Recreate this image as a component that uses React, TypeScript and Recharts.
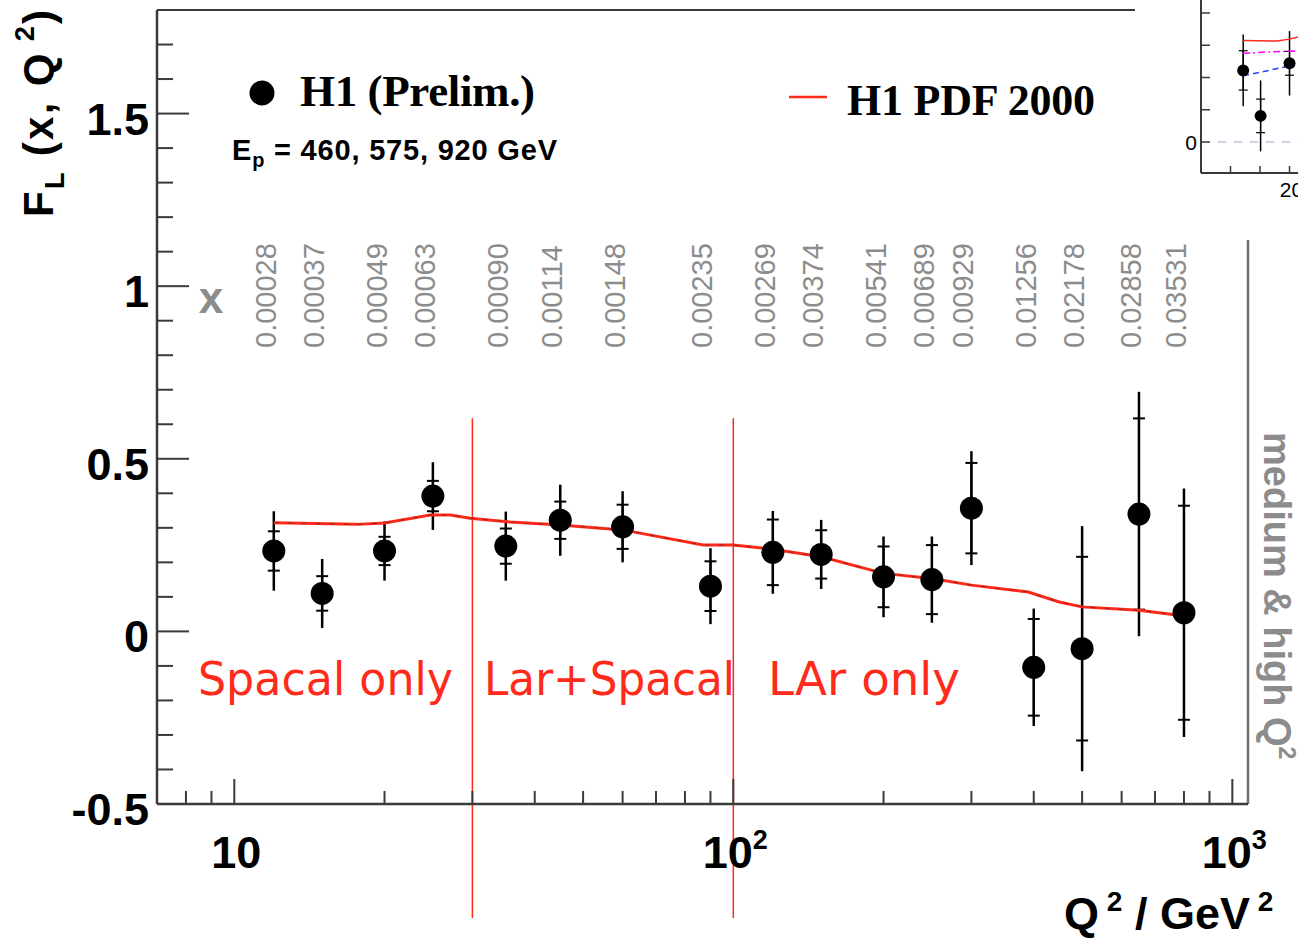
import React from 'react';
import { ScatterChart, Scatter, XAxis, YAxis, ErrorBar, ReferenceLine } from 'recharts';

// H1 preliminary F_L measurement
const q2Values = [12, 15, 20, 25, 35, 45, 60, 90, 120, 150, 200, 250, 300, 400, 500, 650, 800];
const xBjorken = ['0.00028', '0.00037', '0.00049', '0.00063', '0.00090', '0.00114', '0.00148', '0.00235', '0.00269',
  '0.00374', '0.00541', '0.00689', '0.00929', '0.01256', '0.02178', '0.02858', '0.03531'];
const flValues = [0.233, 0.110, 0.233, 0.392, 0.247, 0.322, 0.303, 0.131, 0.229, 0.223, 0.158, 0.150, 0.357, -0.104, -0.050, 0.340, 0.054];
const statErrors = [0.057, 0.050, 0.041, 0.044, 0.051, 0.054, 0.064, 0.072, 0.095, 0.070, 0.088, 0.100, 0.131, 0.140, 0.266, 0.277, 0.310];
const totalErrors = [0.115, 0.100, 0.086, 0.098, 0.100, 0.103, 0.103, 0.110, 0.120, 0.100, 0.117, 0.125, 0.165, 0.170, 0.355, 0.354, 0.360];

// H1 PDF 2000 prediction
const pdfQ2 = [12, 17.6, 20, 24.7, 27.1, 29.7, 35.7, 45, 60, 87, 100, 120, 150, 200, 250, 300, 390, 450, 500, 650, 760, 800];
const pdfFL = [0.315, 0.310, 0.314, 0.337, 0.337, 0.328, 0.317, 0.308, 0.294, 0.250, 0.250, 0.238, 0.216, 0.168, 0.153, 0.134, 0.114, 0.085, 0.071, 0.061, 0.049, 0.047];

// region boundaries
const boundaries = [30, 100];

// cropped neighbouring plot (top right)
const insetX = [12.15, 15.1, 20];
const insetFL = [0.222, 0.081, 0.244];
const insetStat = [0.061, 0.052, 0.037];
const insetTot = [0.111, 0.110, 0.100];
const insetRedX = [12.15, 17.9, 20, 21.6];
const insetRedY = [0.315, 0.313, 0.319, 0.326];
const insetMagX = [12.15, 16, 21.6];
const insetMagY = [0.275, 0.279, 0.282];
const insetBlueX = [12.15, 20];
const insetBlueY = [0.205, 0.236];

const xTicks = [7, 8, 9, 10, 20, 30, 40, 50, 60, 70, 80, 90, 100, 200, 300, 400, 500, 600, 700, 800, 900, 1000];
const yTicks = [-0.5, -0.4, -0.3, -0.2, -0.1, 0, 0.1, 0.2, 0.3, 0.4, 0.5, 0.6, 0.7, 0.8, 0.9, 1, 1.1, 1.2, 1.3, 1.4, 1.5, 1.6, 1.7];
const insetXTicks = [10, 15, 20, 25, 30];
const insetYTicks = [0, 0.1, 0.2, 0.3, 0.4, 0.5];

const SANS = '"Liberation Sans", Arial, Helvetica, sans-serif';
const SERIF = '"Liberation Serif", "Times New Roman", serif';
const AXIS = '#3a3a3a';
const RED = '#ff2a1a';
const GREY = '#8c8c8c';

const points = q2Values.map((q, i) => ({ q2: q, v: flValues[i], stat: statErrors[i], tot: totalErrors[i] }));
const pdfLine = pdfQ2.map((q, i) => ({ q2: q, v: pdfFL[i] }));
const xLabels = q2Values.map((q, i) => ({ q2: q, v: 0.821, label: xBjorken[i] }));

const insetPoints = insetX.map((q, i) => ({ q2: q, v: insetFL[i], stat: insetStat[i], tot: insetTot[i] }));
const insetRed = insetRedX.map((q, i) => ({ q2: q, v: insetRedY[i] }));
const insetMag = insetMagX.map((q, i) => ({ q2: q, v: insetMagY[i] }));
const insetBlue = insetBlueX.map((q, i) => ({ q2: q, v: insetBlueY[i] }));

const Empty = () => <g />;

const XTick = (props: any) => {
  const { x, y, payload } = props;
  const v = payload.value;
  const major = v === 10 || v === 100 || v === 1000;
  return (
    <g>
      <line x1={x} x2={x} y1={y} y2={y - (major ? 25 : 13)} stroke={AXIS} strokeWidth={2} />
      {v === 10 && (
        <text x={x + 2} y={y + 64} textAnchor="middle" fontFamily={SANS} fontWeight="bold" fontSize={45} fill="#000">10</text>
      )}
      {(v === 100 || v === 1000) && (
        <text x={x + 2} y={y + 64} textAnchor="middle" fontFamily={SANS} fontWeight="bold" fontSize={45} fill="#000">
          10<tspan dy={-19} fontSize={27}>{v === 100 ? '2' : '3'}</tspan>
        </text>
      )}
    </g>
  );
};

const YTick = (props: any) => {
  const { x, y, payload } = props;
  const v = payload.value;
  const major = Math.abs(v * 2 - Math.round(v * 2)) < 1e-6;
  return (
    <g>
      <line x1={x} x2={x + (major ? 32 : 16)} y1={y} y2={y} stroke={AXIS} strokeWidth={2} />
      {major && (
        <text x={x - 8} y={y + 21} textAnchor="end" fontFamily={SANS} fontWeight="bold" fontSize={45} fill="#000">
          {String(v)}
        </text>
      )}
    </g>
  );
};

const InsetXTick = (props: any) => {
  const { x, y, payload } = props;
  return (
    <g>
      <line x1={x} x2={x} y1={y} y2={y - 7} stroke={AXIS} strokeWidth={1.5} />
      {payload.value === 20 && (
        <text x={x + 2} y={y + 24} textAnchor="middle" fontFamily={SANS} fontSize={21} fill="#000">20</text>
      )}
    </g>
  );
};

const InsetYTick = (props: any) => {
  const { x, y, payload } = props;
  return (
    <g>
      <line x1={x} x2={x + 9} y1={y} y2={y} stroke={AXIS} strokeWidth={1.5} />
      {payload.value === 0 && (
        <text x={x - 4} y={y + 8} textAnchor="end" fontFamily={SANS} fontSize={21} fill="#000">0</text>
      )}
    </g>
  );
};

const Dot = (r: number) => (props: any) => <circle cx={props.cx} cy={props.cy} r={r} fill="#000" />;

const XLabel = (props: any) => (
  <text transform={`translate(${props.cx + 2},${props.cy}) rotate(-90)`} fontFamily={SANS} fontSize={29} fill={GREY}>
    {props.payload.label}
  </text>
);

export default function App() {
  return (
    <div style={{ position: 'absolute', left: 0, top: 0, width: 1298, height: 939, overflow: 'hidden', background: '#fff' }}>
      <div style={{ position: 'absolute', left: 0, top: 0 }}>
        <ScatterChart width={1298} height={939} margin={{ top: 10, right: 50, bottom: 0, left: 0 }}>
          <XAxis
            type="number"
            dataKey="q2"
            scale="log"
            domain={[7, 1075]}
            ticks={xTicks}
            interval={0}
            tick={XTick}
            tickLine={false}
            tickSize={0}
            tickMargin={0}
            height={135}
            axisLine={{ stroke: AXIS, strokeWidth: 2.5 }}
          />
          <YAxis
            type="number"
            dataKey="v"
            domain={[-0.5, 1.8]}
            ticks={yTicks}
            interval={0}
            tick={YTick}
            tickLine={false}
            tickSize={0}
            tickMargin={0}
            width={157}
            axisLine={{ stroke: AXIS, strokeWidth: 2.5 }}
          />
          <ReferenceLine y={1.8} stroke={AXIS} strokeWidth={2} ifOverflow="visible" />
          <ReferenceLine x={1075} stroke="#6e6e6e" strokeWidth={2.5} ifOverflow="visible" />
          {boundaries.map((b) => (
            <ReferenceLine
              key={b}
              segment={[{ x: b, y: 0.6175 }, { x: b, y: -0.83 }]}
              stroke={RED}
              strokeWidth={1.5}
              ifOverflow="visible"
            />
          ))}
          <Scatter data={xLabels} shape={XLabel} isAnimationActive={false} />
          <Scatter
            data={pdfLine}
            fill={RED}
            line={{ stroke: RED, strokeWidth: 3 }}
            shape={Empty}
            isAnimationActive={false}
          />
          <Scatter
            data={pdfLine}
            fill="#222"
            line={{ stroke: '#222', strokeWidth: 1, strokeDasharray: '5 9', strokeOpacity: 0.5 }}
            shape={Empty}
            isAnimationActive={false}
          />
          <Scatter data={points} shape={Empty} isAnimationActive={false}>
            <ErrorBar dataKey="tot" direction="y" width={0} stroke="#000" strokeWidth={2.5} />
          </Scatter>
          <Scatter data={points} shape={Dot(11.5)} isAnimationActive={false}>
            <ErrorBar dataKey="stat" direction="y" width={6} stroke="#000" strokeWidth={2} />
          </Scatter>
        </ScatterChart>
      </div>

      <svg width={1298} height={939} style={{ position: 'absolute', left: 0, top: 0, pointerEvents: 'none' }}>
        <g transform="translate(53,217) rotate(-90)">
          <text fontFamily={SANS} fontWeight="bold" fontSize={42} fill="#000" textLength={207}>
            F<tspan dy={11} fontSize={27}>L</tspan>
            <tspan dy={-11}> (x, Q</tspan>
            <tspan dy={-19} fontSize={27}> 2</tspan>
            <tspan dy={19}>)</tspan>
          </text>
        </g>

        <circle cx={262} cy={93} r={12.5} fill="#000" />
        <text x={300} y={106} fontFamily={SERIF} fontWeight="bold" fontSize={45} fill="#000" textLength={235}>H1 (Prelim.)</text>
        <text x={232} y={160} fontFamily={SANS} fontWeight="bold" fontSize={29} fill="#000" textLength={325}>
          E<tspan dy={7} fontSize={20}>p</tspan>
          <tspan dy={-7}> = 460, 575, 920 GeV</tspan>
        </text>
        <line x1={789} x2={827} y1={97} y2={97} stroke={RED} strokeWidth={2.5} />
        <text x={847} y={115} fontFamily={SERIF} fontWeight="bold" fontSize={44} fill="#000" textLength={248}>H1 PDF 2000</text>

        <text x={211} y={313} textAnchor="middle" fontFamily={SANS} fontWeight="bold" fontSize={44} fill={GREY}>x</text>

        <text x={198} y={695} fontFamily={'"DejaVu Sans", sans-serif'} fontSize={46} fill={RED} textLength={255} lengthAdjust="spacingAndGlyphs">Spacal only</text>
        <text x={484} y={695} fontFamily={'"DejaVu Sans", sans-serif'} fontSize={46} fill={RED} textLength={251} lengthAdjust="spacingAndGlyphs">Lar+Spacal</text>
        <text x={768} y={695} fontFamily={'"DejaVu Sans", sans-serif'} fontSize={46} fill={RED} textLength={192} lengthAdjust="spacingAndGlyphs">LAr only</text>

        <g transform="translate(1264,432) rotate(90)">
          <text fontFamily={SANS} fontWeight="bold" fontSize={38} fill={GREY}>
            medium &amp; high Q<tspan dy={-15} fontSize={23}>2</tspan>
          </text>
        </g>

        <text x={1064} y={929} fontFamily={SANS} fontWeight="bold" fontSize={45} fill="#000">
          Q<tspan dy={-18} fontSize={28}> 2</tspan>
          <tspan dy={18}> / GeV</tspan>
          <tspan dy={-18} fontSize={28}> 2</tspan>
        </text>
      </svg>

      <div style={{ position: 'absolute', left: 1135, top: 0, width: 163, height: 240, background: '#fff', overflow: 'hidden' }}>
        <div style={{ position: 'absolute', left: 5, top: -30 }}>
          <ScatterChart width={300} height={233} margin={{ top: 0, right: 0, bottom: 0, left: 0 }}>
            <XAxis
              type="number"
              dataKey="q2"
              domain={[5, 45.5]}
              ticks={insetXTicks}
              interval={0}
              tick={InsetXTick}
              tickLine={false}
              tickSize={0}
              tickMargin={0}
              height={30}
              axisLine={{ stroke: AXIS, strokeWidth: 2 }}
            />
            <YAxis
              type="number"
              dataKey="v"
              domain={[-0.0961, 0.5333]}
              ticks={insetYTicks}
              interval={0}
              tick={InsetYTick}
              tickLine={false}
              tickSize={0}
              tickMargin={0}
              width={61}
              axisLine={{ stroke: AXIS, strokeWidth: 2 }}
            />
            <ReferenceLine
              segment={[{ x: 7.8, y: 0 }, { x: 45.5, y: 0 }]}
              stroke="#c4c4dc"
              strokeWidth={1.5}
              strokeDasharray="9 7"
              ifOverflow="visible"
            />
            <Scatter data={insetRed} fill={RED} line={{ stroke: RED, strokeWidth: 1.5 }} shape={Empty} isAnimationActive={false} />
            <Scatter data={insetMag} fill="#ff00ff" line={{ stroke: '#ff00ff', strokeWidth: 1.5, strokeDasharray: '7 3 2 3' }} shape={Empty} isAnimationActive={false} />
            <Scatter data={insetBlue} fill="#2040ff" line={{ stroke: '#2040ff', strokeWidth: 1.5, strokeDasharray: '6 4' }} shape={Empty} isAnimationActive={false} />
            <Scatter data={insetPoints} shape={Empty} isAnimationActive={false}>
              <ErrorBar dataKey="tot" direction="y" width={0} stroke="#000" strokeWidth={1.5} />
            </Scatter>
            <Scatter data={insetPoints} shape={Dot(6)} isAnimationActive={false}>
              <ErrorBar dataKey="stat" direction="y" width={4.5} stroke="#000" strokeWidth={1.2} />
            </Scatter>
          </ScatterChart>
        </div>
      </div>
    </div>
  );
}
